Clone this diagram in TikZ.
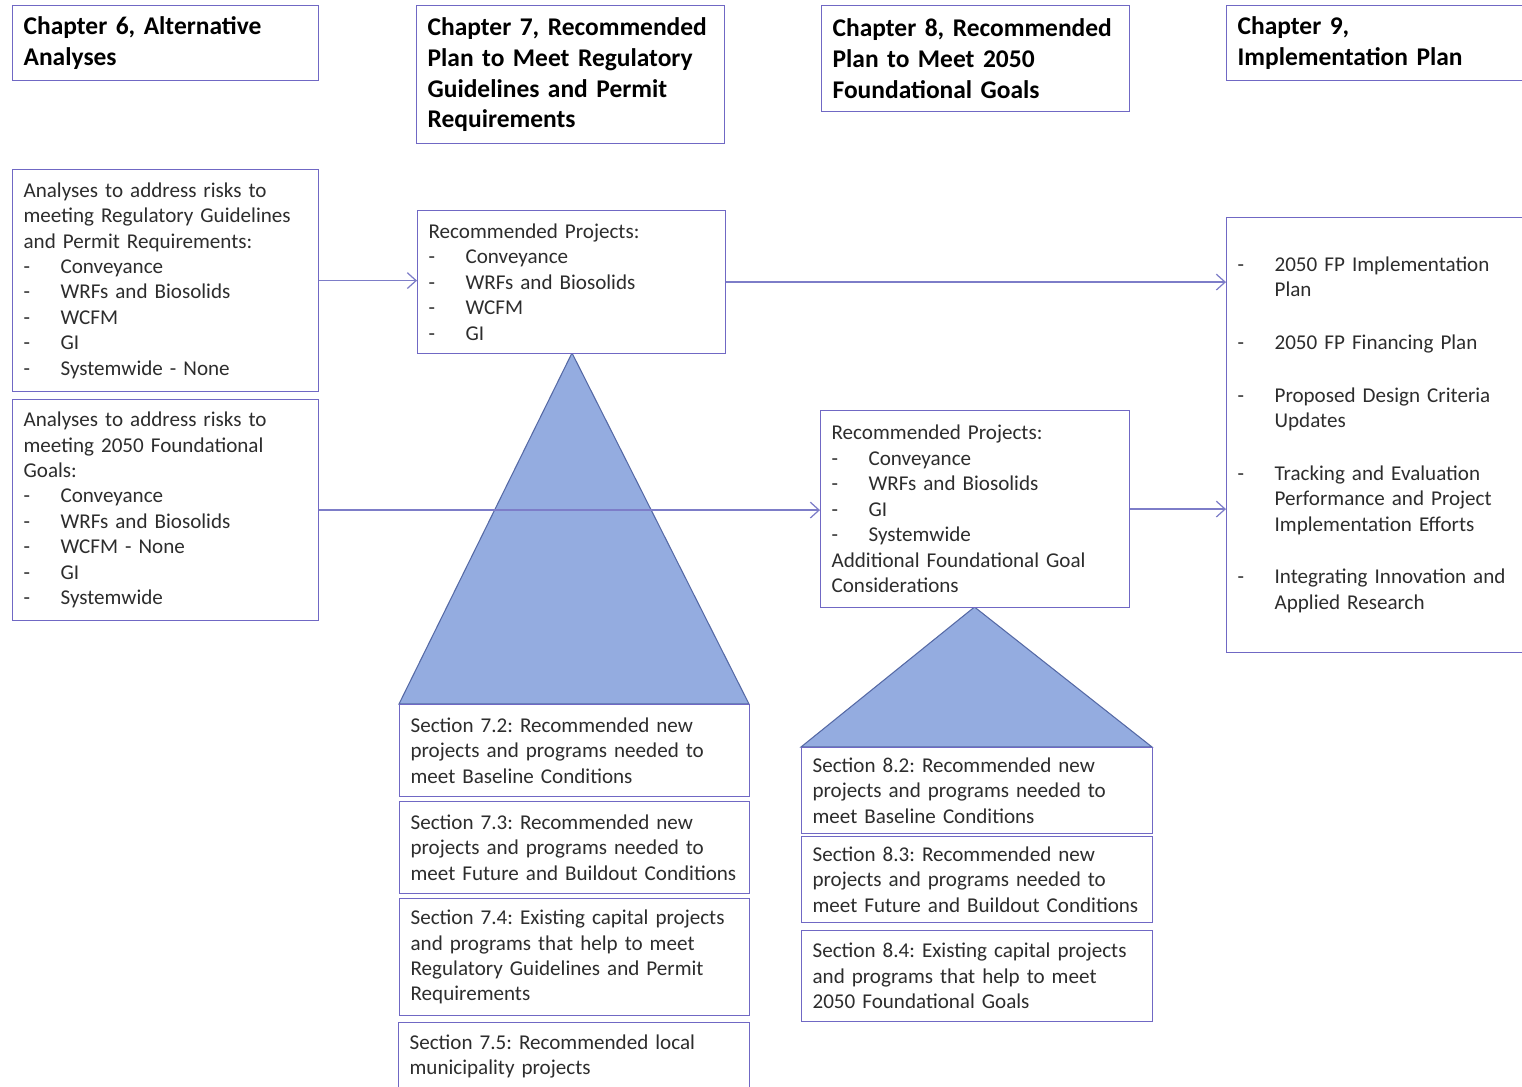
\documentclass[tikz,border=0pt]{standalone}
\usepackage{fontspec}
\setmainfont{Carlito}
\frenchspacing
\usetikzlibrary{arrows.meta}
\usetikzlibrary{positioning}

\definecolor{boxline}{RGB}{112,104,196}
\definecolor{arrline}{RGB}{125,125,200}
\definecolor{trifill}{RGB}{148,172,224}
\definecolor{triline}{RGB}{85,105,165}
\definecolor{txt}{RGB}{45,45,45}

\newcommand\bodyfont{\fontsize{12}{14.5}\selectfont\hyphenpenalty=10000}
\newcommand\headfont{\fontsize{14.5}{17.6}\selectfont\bfseries}
\newcommand\itm[1]{\par\hangindent=0.74cm\hangafter=1\makebox[0.74cm][l]{-}#1\par}

\tikzset{
  box/.style={draw=boxline, fill=white, line width=0.7pt, anchor=north west,
    inner xsep=0.22cm, inner ysep=0.08cm, align=left, text=txt, font=\bodyfont},
  head/.style={box, text=black, font=\headfont},
  flow/.style={draw=arrline, line width=0.7pt, -{Straight Barb[length=5pt,width=9pt]}},
  pyramid/.style={fill=trifill, draw=triline, line width=0.6pt}
}

\begin{document}
\begin{tikzpicture}[x=0.02cm,y=-0.02cm]
\fill[white] (0,0) rectangle (1522,1086);
\useasboundingbox (0,0) rectangle (1522,1086);

% chapter headings
\node[head, text width=5.68cm, minimum height=1.5cm] (ch6) at (12,5) {Chapter 6, Alternative\\Analyses};
\node[head, text width=5.72cm, minimum height=2.76cm] (ch7) at (416,5) {Chapter 7, Recommended\\Plan to Meet Regulatory\\Guidelines and Permit\\Requirements};
\node[head, text width=5.72cm, minimum height=2.12cm] (ch8) at (821,5) {Chapter 8, Recommended\\Plan to Meet 2050\\Foundational Goals};
\node[head, text width=5.76cm, minimum height=1.5cm] (ch9) at (1226,5) {Chapter 9,\\Implementation Plan};

% pyramids (drawn first, boxes sit on them)
\path[pyramid] (572,353) -- (399,704) -- (749,704) -- cycle;
\path[pyramid] (974.5,607) -- (801,747) -- (1152,747) -- cycle;

% chapter 6
\node[box, text width=5.68cm, minimum height=4.44cm] (anaReg) at (12,169) {Analyses to address risks to\\meeting Regulatory Guidelines\\and Permit Requirements:
  \itm{Conveyance}\itm{WRFs and Biosolids}\itm{WCFM}\itm{GI}\itm{Systemwide - None}};
\node[box, text width=5.68cm, minimum height=4.42cm] (anaFnd) at (12,399) {Analyses to address risks to\\meeting 2050 Foundational\\Goals:
  \itm{Conveyance}\itm{WRFs and Biosolids}\itm{WCFM - None}\itm{GI}\itm{Systemwide}};

% chapter 7
\node[box, text width=5.72cm, minimum height=2.86cm] (recReg) at (417,210) {Recommended Projects:
  \itm{Conveyance}\itm{WRFs and Biosolids}\itm{WCFM}\itm{GI}};
\node[box, text width=6.56cm, minimum height=1.84cm] (sec72) at (399,704) {Section 7.2: Recommended new\\projects and programs needed to\\meet Baseline Conditions};
\node[box, text width=6.56cm, minimum height=1.84cm] (sec73) at (399,801) {Section 7.3: Recommended new\\projects and programs needed to\\meet Future and Buildout Conditions};
\node[box, text width=6.56cm, minimum height=2.34cm] (sec74) at (399,898) {Section 7.4: Existing capital projects\\and programs that help to meet\\Regulatory Guidelines and Permit\\Requirements};
\node[box, text width=6.58cm, minimum height=1.36cm] (sec75) at (398,1022) {Section 7.5: Recommended local\\municipality projects};

% chapter 8
\node[box, text width=5.74cm, minimum height=3.94cm] (recFnd) at (820,410) {Recommended Projects:
  \itm{Conveyance}\itm{WRFs and Biosolids}\itm{GI}\itm{Systemwide}Additional Foundational Goal\\Considerations};
\node[box, text width=6.58cm, minimum height=1.72cm] (sec82) at (801,747) {Section 8.2: Recommended new\\projects and programs needed to\\meet Baseline Conditions};
\node[box, text width=6.58cm, minimum height=1.72cm] (sec83) at (801,836) {Section 8.3: Recommended new\\projects and programs needed to\\meet Future and Buildout Conditions};
\node[box, text width=6.58cm, minimum height=1.82cm] (sec84) at (801,930) {Section 8.4: Existing capital projects\\and programs that help to meet\\2050 Foundational Goals};

% chapter 9
\node[box, text width=5.76cm, minimum height=8.7cm] (impl) at (1226,217) {%
  \itm{2050 FP Implementation\newline Plan}\vskip 15.5pt
  \itm{2050 FP Financing Plan}\vskip 15.5pt
  \itm{Proposed Design Criteria\newline Updates}\vskip 15.5pt
  \itm{Tracking and Evaluation\newline Performance and Project\newline Implementation Efforts}\vskip 15.5pt
  \itm{Integrating Innovation and\newline Applied Research}\vskip -6pt\null};

% flows
\foreach \from/\to in {anaReg/recReg, recReg/impl, anaFnd/recFnd, recFnd/impl}
  \draw[flow] (\from.east) -- (\from.east -| \to.west);
\end{tikzpicture}
\end{document}
